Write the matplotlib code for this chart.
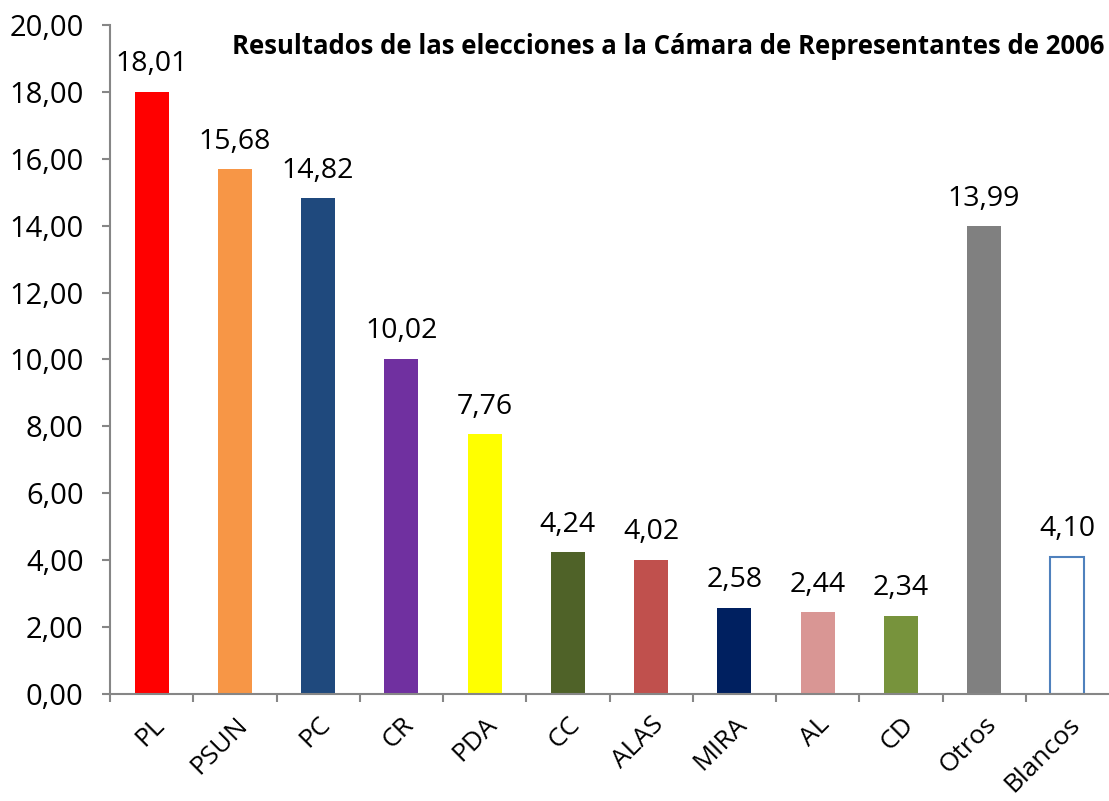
import numpy as np
import matplotlib.pyplot as plt

partidos = ["PL", "PSUN", "PC", "CR", "PDA", "CC", "ALAS", "MIRA", "AL", "CD", "Otros", "Blancos"]
votos = [18.01, 15.68, 14.82, 10.02, 7.76, 4.24, 4.02, 2.58, 2.44, 2.34, 13.99, 4.10]
colores = ["#FF0000", "#F79646", "#1F497D", "#7030A0", "#FFFF00", "#4F6228",
           "#C0504D", "#002060", "#D99694", "#77933C", "#808080", "#FFFFFF"]
bordes = ["none"] * 11 + ["#4F81BD"]

plt.rcParams['font.family'] = ['Open Sans', 'DejaVu Sans']

fig = plt.figure(figsize=(11.09, 8.01), dpi=100)
ax = fig.add_axes([0.0992, 0.1336, 0.9008, 0.8352])

x = np.arange(len(partidos))
bars = ax.bar(x, votos, width=0.41, color=colores, edgecolor=bordes, linewidth=1.5)

for xi, v in zip(x, votos):
    ax.text(xi, v + 0.4, f"{v:.2f}".replace(".", ","), ha="center", va="bottom", fontsize=20.5)

ax.set_xlim(-0.5, len(partidos) - 0.5)
ax.set_ylim(0, 20)
ax.set_yticks(np.arange(0, 21, 2))
ax.set_yticklabels([f"{t:.2f}".replace(".", ",") for t in np.arange(0, 21, 2)], fontsize=21)
ax.set_xticks(x)
ax.set_xticklabels(partidos, rotation=45, ha="right", rotation_mode="anchor", fontsize=19)
ax.set_xticks(np.arange(-0.5, len(partidos) - 0.5, 1), minor=True)
ax.tick_params(axis="x", which="major", length=0, pad=13)
ax.tick_params(axis="x", which="minor", length=6, color="#868686", width=1.5, direction="out")
ax.tick_params(axis="y", length=6, color="#868686", width=1.5, direction="out", pad=13)

for s in ["top", "right"]:
    ax.spines[s].set_visible(False)
for s in ["left", "bottom"]:
    ax.spines[s].set_color("#868686")
    ax.spines[s].set_linewidth(1.5)

ax.text(0.995, 0.968, "Resultados de las elecciones a la Cámara de Representantes de 2006",
        transform=ax.transAxes, ha="right", va="center", fontsize=18.5, fontweight="bold")

fig.savefig("out.png", dpi=100)
